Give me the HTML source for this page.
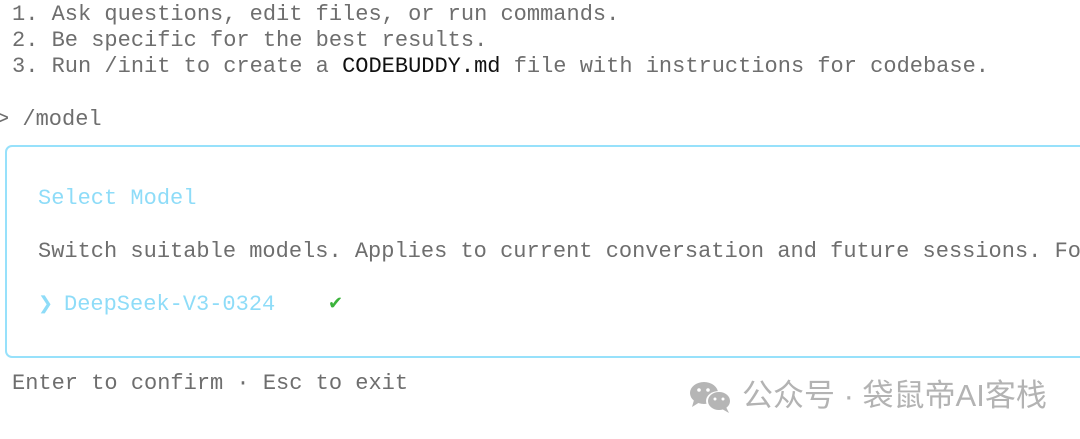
<!DOCTYPE html>
<html><head><meta charset="utf-8"><style>
body{margin:0;width:1080px;height:439px;background:#fff;overflow:hidden;position:relative;font-family:"Liberation Mono",monospace;font-size:22px;color:#6e6e6e}
.t{position:absolute;white-space:pre;line-height:26px}
.b{color:#111}
.box{position:absolute;left:5px;top:145px;width:1090px;height:209px;border:2px solid #97e1fb;border-radius:7px}
.c{color:#8edcf8}
.wm{position:absolute;left:742px;top:376px;font-family:"Liberation Sans","Noto Sans CJK SC",sans-serif;font-size:31px;color:#b3b3b3;white-space:pre;line-height:40px}
</style></head><body>
<div class="t" style="left:12px;top:2px">1. Ask questions, edit files, or run commands.</div>
<div class="t" style="left:12px;top:28px">2. Be specific for the best results.</div>
<div class="t" style="left:12px;top:54px">3. Run /init to create a <span class="b">CODEBUDDY.md</span> file with instructions for codebase.</div>
<div class="t" style="left:-4px;top:107px">&gt; /model</div>
<div class="box"></div>
<div class="t c" style="left:38px;top:186px">Select Model</div>
<div class="t" style="left:38px;top:239px">Switch suitable models. Applies to current conversation and future sessions. For</div>
<div class="t c" style="left:38px;top:292px;font-size:18px">❯</div>
<div class="t c" style="left:64px;top:292px">DeepSeek-V3-0324</div>
<div class="t" style="left:328px;top:292px;color:#3bb33b;font-size:18px">✔</div>
<div class="t" style="left:12px;top:371px">Enter to confirm · Esc to exit</div>
<svg style="position:absolute;left:688px;top:380px" width="46" height="34" viewBox="0 0 46 34">
<ellipse cx="16" cy="13" rx="14" ry="11" fill="#b5b5b5"/><path d="M6 20 L4 27 L12 22Z" fill="#b5b5b5"/>
<ellipse cx="31" cy="21" rx="13" ry="10" fill="#fff"/><ellipse cx="31" cy="21" rx="11" ry="9" fill="#b5b5b5"/><path d="M38 27 L41 33 L34 29Z" fill="#b5b5b5"/>
<circle cx="11" cy="10" r="1.8" fill="#fff"/><circle cx="20" cy="10" r="1.8" fill="#fff"/><circle cx="27" cy="19" r="1.5" fill="#fff"/><circle cx="35" cy="19" r="1.5" fill="#fff"/></svg>
<div class="wm">公众号 · 袋鼠帝AI客栈</div>
</body></html>
